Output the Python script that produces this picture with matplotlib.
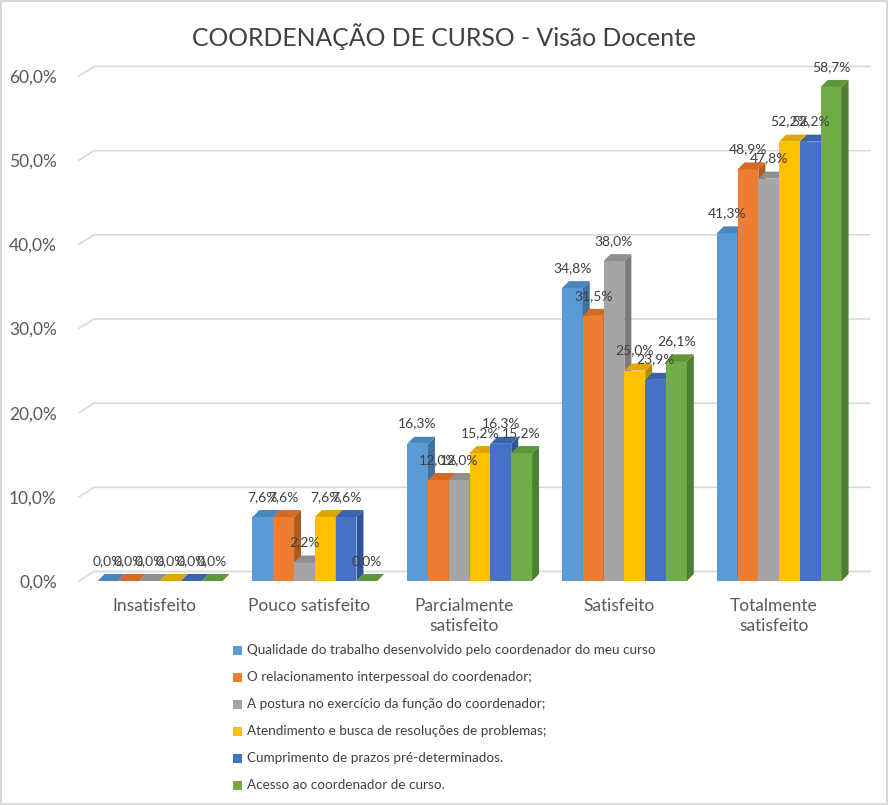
import matplotlib.pyplot as plt
from matplotlib.patches import Polygon, Rectangle

plt.rcParams['font.family'] = ['Lato', 'DejaVu Sans']

categories = ["Insatisfeito", "Pouco satisfeito", "Parcialmente\nsatisfeito",
              "Satisfeito", "Totalmente\nsatisfeito"]
series_names = [
    "Qualidade do trabalho desenvolvido pelo coordenador do meu curso",
    "O relacionamento interpessoal do coordenador;",
    "A postura no exercício da função do coordenador;",
    "Atendimento e busca de resoluções de problemas;",
    "Cumprimento de prazos pré-determinados.",
    "Acesso ao coordenador de curso.",
]
qualidade = [0.0, 7.6, 16.3, 34.8, 41.3]
relacionamento = [0.0, 7.6, 12.0, 31.5, 48.9]
postura = [0.0, 2.2, 12.0, 38.0, 47.8]
atendimento = [0.0, 7.6, 15.2, 25.0, 52.2]
cumprimento = [0.0, 7.6, 16.3, 23.9, 52.2]
acesso = [0.0, 0.0, 15.2, 26.1, 58.7]
values = [qualidade, relacionamento, postura, atendimento, cumprimento, acesso]

colors = ["#5B9BD5", "#ED7D31", "#A5A5A5", "#FFC000", "#4472C4", "#70AD47"]
side_colors = ["#41719C", "#AE5A21", "#7B7B7B", "#BC8C00", "#2F5597", "#507E32"]
top_colors = ["#4A86BE", "#D46A25", "#8F8F8F", "#DDA600", "#3A63AD", "#5F963B"]

fig = plt.figure(figsize=(8.88, 8.05), dpi=100)
fig.patch.set_edgecolor("#D9D9D9")
fig.patch.set_linewidth(1.5)
ax = fig.add_axes([79 / 888, 1 - 581 / 805, 776 / 888, 505 / 805])
xmin, xmax = -0.524, 4.49
ax.set_xlim(xmin, xmax)
ax.set_ylim(0, 60)

w = 0.1345
ddx, ddy = 0.045, 0.83     # bar depth
gdx, gdy = 0.097, 1.13     # back wall offset

# gridlines on the back wall
for t in range(0, 61, 10):
    ax.plot([xmin, xmin + gdx, xmax + gdx], [t, t + gdy, t + gdy],
            color="#D9D9D9", lw=1.2, clip_on=False, zorder=0)

z = 2
for c in range(len(categories)):
    for s, vals in enumerate(values):
        v = vals[c]
        x0 = c + (s - 2.5) * w - w / 2
        ax.add_patch(Rectangle((x0, 0), w, v, facecolor=colors[s], zorder=z))
        ax.add_patch(Polygon([(x0 + w, 0), (x0 + w + ddx, ddy), (x0 + w + ddx, v + ddy), (x0 + w, v)],
                             closed=True, facecolor=side_colors[s], zorder=z, clip_on=False))
        ax.add_patch(Polygon([(x0, v), (x0 + ddx, v + ddy), (x0 + w + ddx, v + ddy), (x0 + w, v)],
                             closed=True, facecolor=top_colors[s], zorder=z, clip_on=False))
        z += 1
for c in range(len(categories)):
    for s, vals in enumerate(values):
        v = vals[c]
        xc = c + (s - 2.5) * w
        ax.text(xc, v + 2.4, f"{v:.1f}%".replace(".", ","), ha="center", va="center",
                fontsize=10, color="#404040", zorder=100, clip_on=False)

ax.set_yticks(range(0, 61, 10))
ax.set_yticklabels([f"{t},0%" for t in range(0, 61, 10)], fontsize=12.5, color="#595959")
ax.set_xticks([c - 0.035 for c in range(len(categories))])
ax.set_xticklabels(categories, fontsize=12.5, color="#595959", linespacing=1.3)
ax.tick_params(axis="y", length=0, pad=16)
ax.tick_params(axis="x", length=0, pad=12)
for sp in ax.spines.values():
    sp.set_visible(False)

fig.text(0.5, 1 - 37 / 805, "COORDENAÇÃO DE CURSO - Visão Docente", ha="center", va="center",
         fontsize=17.8, color="#404040")

# legend
for s, name in enumerate(series_names):
    yc = 1 - (650 + 27 * s) / 805
    fig.patches.append(Rectangle((233 / 888, yc - 4.5 / 805), 9 / 888, 9 / 805, facecolor=colors[s],
                                 transform=fig.transFigure, figure=fig))
    fig.text(247 / 888, yc, name, ha="left", va="center", fontsize=9.75, color="#404040")

fig.savefig("out.png", dpi=100)
